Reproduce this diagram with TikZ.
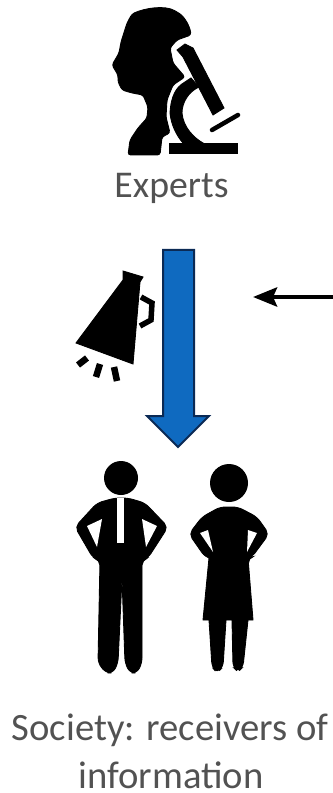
\documentclass[tikz,border=0pt]{standalone}
\usepackage{fontspec}
\setmainfont{Carlito}
\usetikzlibrary{arrows.meta, positioning}
\definecolor{flowblue}{HTML}{0F6AC0}
\definecolor{flowedge}{HTML}{0B2A55}
\tikzset{
  icon/.style={fill=black, draw=black, line width=0.5pt, rounded corners=1.5pt},
  hole/.style={fill=white, draw=none},
  caption/.style={text=black!68, font=\fontsize{22pt}{26pt}\selectfont, inner sep=0pt, anchor=base},
  ray/.style={line width=0.13cm, draw=black}
}
\begin{document}
\begin{tikzpicture}[x=0.02cm, y=-0.02cm]
  \useasboundingbox (0,0) rectangle (333,793);
  % experts: head
  \fill[icon] (128,155) -- (130,140) -- (138,128) -- (147,118) -- (148,107) -- (143,95) -- (132,93) -- (122,90)
    -- (118,82) -- (118,75) -- (112,65) -- (119,53) -- (121,42) -- (127,23) -- (132,14)
    .. controls (145,8) and (165,5) .. (177,12) .. controls (185,17) and (190,27) .. (191,35)
    -- (177,40) -- (170,48) -- (173,63) -- (185,77) -- (173,85) -- (167,100) -- (166,117) -- (170,133)
    -- (162,137) -- (160,155) -- cycle;
  % experts: microscope
  \fill[icon, rounded corners=0pt] (177,50) -- (185,44) -- (193,48) -- (224,108) -- (213,115) -- (183,57) -- cycle;
  \fill[icon, rounded corners=0pt] (191,78) -- (185,82) .. controls (176,87) and (171,96) .. (170,113)
    .. controls (171,124) and (176,135) .. (183,143) -- (203,143)
    .. controls (194,138) and (183,127) .. (182,113) .. controls (182,103) and (188,92) .. (199,87) -- cycle;
  \fill[icon, rounded corners=0pt] (169,143) rectangle (237,153);
  \draw[line width=0.09cm, line cap=round] (212,130) -- (238,115);
  \node[caption, font=\fontsize{21.5pt}{26pt}\selectfont] (experts) at (171.5,198) {Experts};
  % megaphone
  \fill[icon, rounded corners=0pt] (123,271) -- (143,277) -- (140,282) -- (133,364) -- (76,343) -- (123,280) -- cycle;
  \draw[line width=0.11cm] (141,297) -- (152,303) -- (151,320) -- (140,326);
  \draw[ray] (78,365) -- (87,358);
  \draw[ray] (96,377) -- (100,364);
  \draw[ray] (117,381) -- (114,367);
  % blue arrow
  \draw[fill=flowblue, draw=flowedge, line width=0.04cm, line join=miter]
    (163,250) -- (194,250) -- (194,416) -- (209,416) -- (178,447) -- (147,416) -- (163,416) -- cycle;
  % side arrow
  \coordinate (sidein) at (333,297);
  \coordinate (sidetip) at (253,297);
  \draw[line width=0.09cm, -{Stealth[length=0.48cm, width=0.38cm, inset=0.08cm]}] (sidein) -- (sidetip);
  % man
  \fill (121,478) circle (17);
  \fill[icon, rounded corners=3pt] (115,498) -- (128,498) -- (145,503) -- (168,527) -- (148,558) -- (142,560)
    -- (142,663) -- (137,673) -- (130,673) -- (125,663) -- (122,578) -- (118,663) -- (113,673) -- (106,673)
    -- (98,663) -- (100,560) -- (93,558) -- (75,527) -- (97,503) -- cycle;
  \fill[hole] (87,526) -- (102,519) -- (97,547) -- cycle;
  \fill[hole] (142,519) -- (157,526) -- (146,547) -- cycle;
  \fill[hole] (117,498) rectangle (124,543);
  % woman
  \fill (229,483) circle (19);
  \fill[icon, rounded corners=3pt] (220,507) -- (238,507) -- (257,517) -- (269,534) -- (252,557) -- (248,558)
    [sharp corners] -- (253,620) -- (248,620) [rounded corners=3pt] -- (243,667) -- (238,672) -- (233,667)
    [sharp corners] -- (232,620) -- (226,620) [rounded corners=3pt] -- (223,667)
    -- (217,673) -- (212,667) [sharp corners] -- (209,620) -- (203,620) -- (209,558) [rounded corners=3pt]
    -- (205,557) -- (189,534) -- (202,517) -- cycle;
  \fill[hole] (200,533) -- (208,530) -- (213,552) -- cycle;
  \fill[hole] (248,530) -- (257,533) -- (247,552) -- cycle;
  \node[caption] (society) at (170,740) {Society: receivers of};
  \node[caption] (information) at (171,788) {information};
\end{tikzpicture}
\end{document}
